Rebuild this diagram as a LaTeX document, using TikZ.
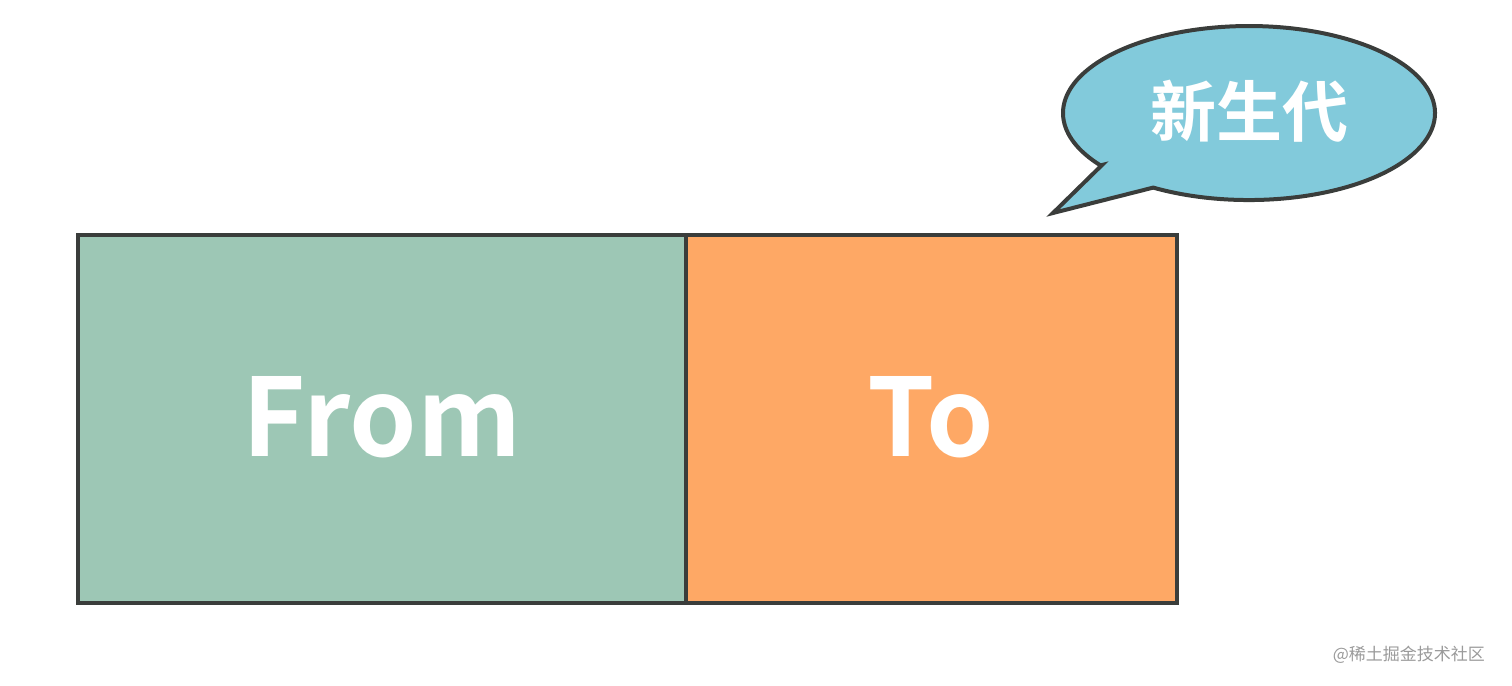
\documentclass[tikz,border=0pt]{standalone}
\usepackage{fontspec}
\setmainfont{Noto Sans CJK SC}[BoldFont={* Bold}]
\newfontfamily\cjk{Noto Sans CJK SC}[BoldFont={* Bold}]
\definecolor{edge}{HTML}{3A3D3B}
\definecolor{fromfill}{HTML}{9DC7B5}
\definecolor{tofill}{HTML}{FEA865}
\definecolor{bubble}{HTML}{82CADB}
\definecolor{wm}{HTML}{9A9A9A}
\tikzset{
  box/.style={draw=edge, line width=2pt, line join=miter},
  bigtext/.style={text=white, font=\fontsize{54}{60}\selectfont\bfseries},
}
\begin{document}
\begin{tikzpicture}[x=0.5pt, y=-0.5pt]
\useasboundingbox (0,0) rectangle (1512,686);
% boxes
\draw[box, fill=fromfill] (78,235) rectangle (686,603);
\draw[box, fill=tofill] (686,235) rectangle (1177,603);
\node[bigtext] (from) at (382,417) {From};
\node[bigtext] (to) at (931,417) {To};
% callout
\draw[box, fill=bubble]
  (1102,165) -- (1053,213) -- (1153.2,187.6)
  arc[start angle=121, end angle=-217, x radius=186, y radius=87] -- cycle;
\node[text=white, font=\cjk\fontsize{33}{36}\selectfont\bfseries] (gen) at (1249,111) {新生代};
% watermark
\node[text=wm, font=\cjk\fontsize{8.5}{10}\selectfont, anchor=east] (wmk) at (1492,655) {@稀土掘金技术社区};
\end{tikzpicture}
\end{document}
